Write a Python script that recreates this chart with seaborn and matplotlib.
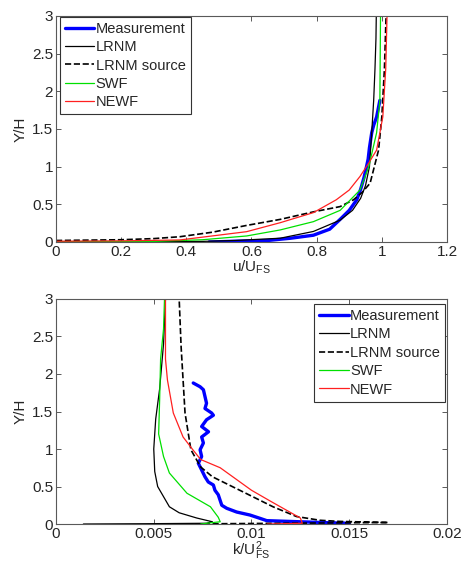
import pandas as pd
import matplotlib
matplotlib.use('Agg')
import matplotlib.pyplot as plt
import seaborn as sns
from matplotlib.ticker import FormatStrFormatter

sns.set_style('white')
plt.rcParams['font.family'] = ['Liberation Sans', 'DejaVu Sans']
plt.rcParams['mathtext.fontset'] = 'custom'
plt.rcParams['mathtext.rm'] = 'Liberation Sans'
plt.rcParams['mathtext.it'] = 'Liberation Sans:italic'
plt.rcParams['font.size'] = 11

# ---------------------------------------------------------------------------
# Velocity profiles (top panel): u/U_FS against Y/H
# ---------------------------------------------------------------------------
meas_u = [0.47, 0.55, 0.65, 0.72, 0.79, 0.84, 0.872, 0.90, 0.923, 0.935, 0.945,
          0.953, 0.958, 0.962, 0.969, 0.975, 0.984, 0.994]
meas_u_y = [0.0, 0.01, 0.02, 0.05, 0.09, 0.17, 0.30, 0.42, 0.56, 0.70, 0.85,
            1.0, 1.1, 1.25, 1.45, 1.55, 1.66, 1.88]

lrnm_u = [0.0, 0.3, 0.45, 0.55, 0.688, 0.79, 0.872, 0.91, 0.935, 0.95, 0.962,
          0.969, 0.975, 0.979, 0.982, 0.983]
lrnm_u_y = [0.0, 0.003, 0.008, 0.02, 0.05, 0.14, 0.29, 0.42, 0.58, 0.75, 1.0,
            1.45, 1.88, 2.3, 2.7, 3.0]

src_u = [0.0, 0.2, 0.3, 0.38, 0.48, 0.585, 0.688, 0.79, 0.872, 0.913, 0.94,
         0.964, 0.99, 1.0, 1.008, 1.013]
src_u_y = [0.02, 0.03, 0.045, 0.07, 0.13, 0.22, 0.30, 0.40, 0.47, 0.56, 0.66,
           0.78, 1.22, 1.66, 2.3, 3.0]

swf_u = [0.0, 0.3, 0.45, 0.585, 0.688, 0.79, 0.872, 0.933, 0.96, 0.984, 0.994, 0.996]
swf_u_y = [0.005, 0.008, 0.03, 0.08, 0.16, 0.27, 0.42, 0.69, 1.0, 1.45, 1.88, 3.0]

newf_u = [0.0, 0.2, 0.38, 0.585, 0.688, 0.79, 0.86, 0.90, 0.933, 0.96, 0.984,
          1.003, 1.012, 1.016]
newf_u_y = [0.01, 0.015, 0.027, 0.137, 0.256, 0.39, 0.56, 0.69, 0.87, 1.05, 1.22,
            1.66, 2.3, 3.0]

# ---------------------------------------------------------------------------
# Turbulent kinetic energy profiles (bottom panel): k/U_FS^2 against Y/H
# ---------------------------------------------------------------------------
meas_k = [0.00702, 0.00737, 0.00754, 0.00762, 0.0077, 0.00762, 0.00796, 0.00805,
          0.0077, 0.00745, 0.0078, 0.00745, 0.00754, 0.00737, 0.00745, 0.00728,
          0.00745, 0.00762, 0.00779, 0.00805, 0.00813, 0.0083, 0.00839, 0.00848,
          0.00873, 0.00924, 0.00992, 0.01043, 0.01078, 0.01248, 0.0140, 0.0150]
meas_k_y = [1.88, 1.83, 1.79, 1.70, 1.61, 1.54, 1.48, 1.45, 1.39, 1.30, 1.23,
            1.16, 1.08, 0.99, 0.90, 0.81, 0.72, 0.63, 0.56, 0.52, 0.45, 0.39,
            0.32, 0.25, 0.21, 0.16, 0.12, 0.076, 0.045, 0.03, 0.017, 0.01]

lrnm_k = [0.0014, 0.0045, 0.0077, 0.0080, 0.0072, 0.0063, 0.0058, 0.0052, 0.00505,
          0.0050, 0.0051, 0.0053, 0.0055, 0.0056]
lrnm_k_y = [0.0, 0.004, 0.01, 0.03, 0.08, 0.15, 0.23, 0.5, 0.7, 1.0, 1.4, 1.8, 2.4, 3.0]

src_k = [0.0062, 0.017, 0.0145, 0.0135, 0.0123, 0.0111, 0.0094, 0.0080, 0.0074,
         0.0069, 0.0066, 0.0065, 0.0064, 0.0063]
src_k_y = [0.0, 0.02, 0.035, 0.05, 0.1, 0.23, 0.45, 0.63, 0.76, 0.99, 1.48, 1.92,
           2.36, 3.0]

swf_k = [0.0074, 0.0077, 0.0084, 0.0083, 0.0079, 0.0067, 0.0058, 0.0055, 0.00525,
         0.0053, 0.00535, 0.0055, 0.00555]
swf_k_y = [0.0, 0.01, 0.03, 0.09, 0.23, 0.41, 0.68, 0.9, 1.2, 1.65, 2.2, 2.6, 3.0]

newf_k = [0.0108, 0.0126, 0.0125, 0.0110, 0.0100, 0.0084, 0.0074, 0.0070, 0.0065,
          0.0060, 0.0057, 0.0056, 0.0056]
newf_k_y = [0.0, 0.01, 0.08, 0.3, 0.45, 0.75, 0.86, 0.99, 1.16, 1.48, 1.92, 2.2, 3.0]

labels = ['Measurement', 'LRNM', 'LRNM source', 'SWF', 'NEWF']
colors = ['#0000ff', 'black', 'black', '#00e000', '#ff2020']
styles = ['-', '-', '--', '-', '-']
widths = [2.4, 0.9, 1.2, 0.9, 0.9]

top_series = [(meas_u, meas_u_y), (lrnm_u, lrnm_u_y), (src_u, src_u_y),
              (swf_u, swf_u_y), (newf_u, newf_u_y)]
bot_series = [(meas_k, meas_k_y), (lrnm_k, lrnm_k_y), (src_k, src_k_y),
              (swf_k, swf_k_y), (newf_k, newf_k_y)]

fig = plt.figure(figsize=(4.61, 5.67), dpi=100)
ax1 = fig.add_axes([0.1215, 0.5732, 0.8481, 0.3986])
ax2 = fig.add_axes([0.1215, 0.0758, 0.8481, 0.3969])


def draw(ax, series):
    for (xv, yv), lab, c, ls, lw in zip(series, labels, colors, styles, widths):
        df = pd.DataFrame({'x': xv, 'y': yv})
        sns.lineplot(data=df, x='x', y='y', ax=ax, sort=False, estimator=None,
                     color=c, linestyle=ls, linewidth=lw, label=lab)


def style(ax):
    for s in ax.spines.values():
        s.set_color('0.35')
        s.set_linewidth(0.8)
    ax.tick_params(direction='in', length=3.5, width=0.7, color='0.35',
                   top=True, right=True, bottom=True, left=True,
                   labelsize=11, pad=2)
    ax.yaxis.set_major_formatter(FormatStrFormatter('%g'))
    ax.xaxis.set_major_formatter(FormatStrFormatter('%g'))
    ax.set_ylim(0, 3)
    ax.set_yticks([0, 0.5, 1, 1.5, 2, 2.5, 3])
    ax.set_ylabel('Y/H', labelpad=3, fontsize=11)


draw(ax1, top_series)
style(ax1)
ax1.set_xlim(0, 1.2)
ax1.set_xticks([0, 0.2, 0.4, 0.6, 0.8, 1, 1.2])
ax1.set_xlabel(r'u/U$_{\mathrm{FS}}$', labelpad=0, fontsize=11)
leg_kw = dict(frameon=True, fancybox=False, framealpha=1, edgecolor='0.2',
              handlelength=2.0, handletextpad=0.1, labelspacing=0.3,
              borderpad=0.35, borderaxespad=0, fontsize=10.5)
leg1 = ax1.legend(loc='upper left', bbox_to_anchor=(0.01, 0.997), **leg_kw)
leg1.get_frame().set_linewidth(0.8)

draw(ax2, bot_series)
style(ax2)
ax2.set_xlim(0, 0.02)
ax2.set_xticks([0, 0.005, 0.01, 0.015, 0.02])
ax2.set_xlabel(r'k/U$^{2}_{\mathrm{FS}}$', labelpad=-1, fontsize=11)
leg2 = ax2.legend(loc='upper right', bbox_to_anchor=(0.995, 0.978), **leg_kw)
leg2.get_frame().set_linewidth(0.8)

fig.savefig('out.png', dpi=100)
